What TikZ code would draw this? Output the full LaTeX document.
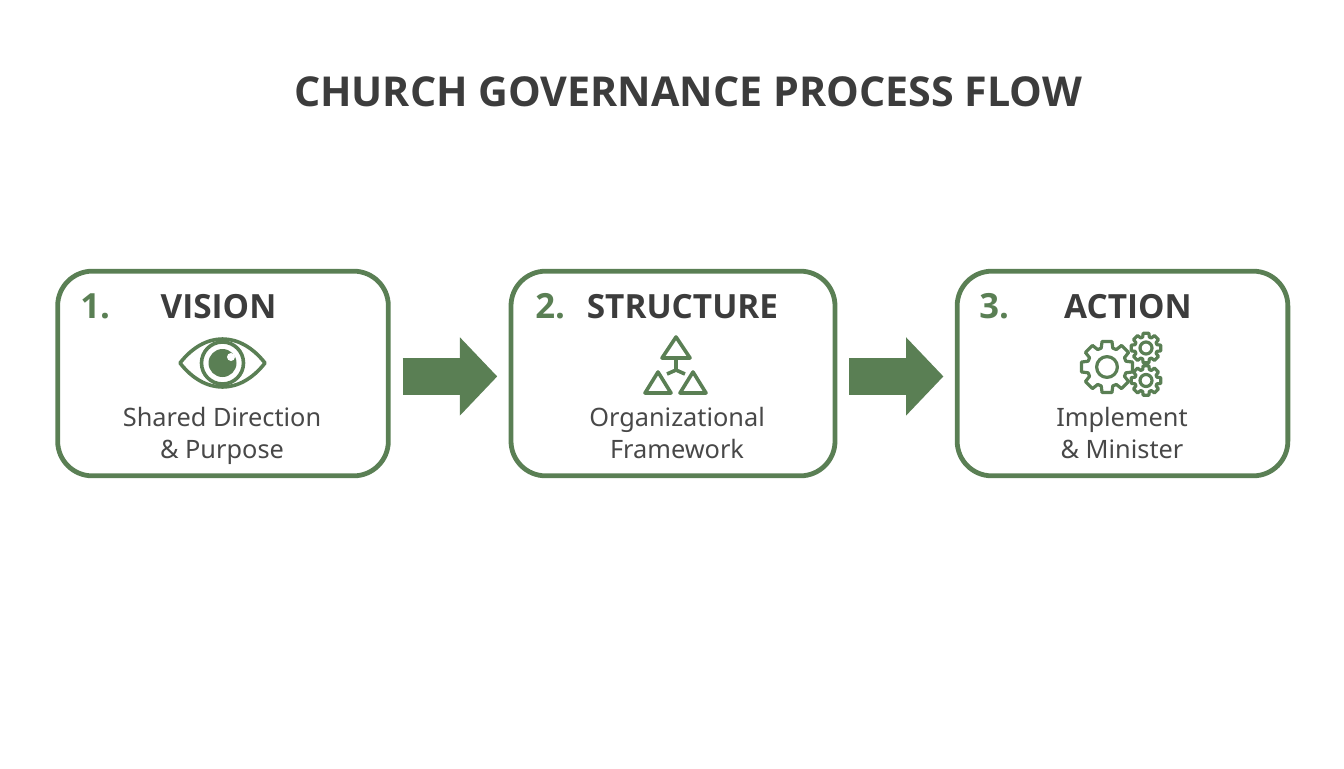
\documentclass[tikz,border=0pt]{standalone}
\usepackage{fontspec}
\setmainfont{Noto Sans}
\newfontfamily\headfont{Open Sans}
\usetikzlibrary{arrows.meta}
\definecolor{leaf}{HTML}{5A7F54}
\definecolor{ink}{HTML}{3C3C3C}
\definecolor{softink}{HTML}{484848}
\tikzset{
    stepbox/.style={draw=leaf, line width=3.6pt, rounded corners=26pt, minimum height=153.5pt},
    headline/.style={anchor=base, text=ink, font=\headfont\bfseries\fontsize{25}{30}\selectfont, inner sep=0pt},
    numeral/.style={anchor=base west, text=leaf, font=\headfont\bfseries\fontsize{26}{30}\selectfont, inner sep=0pt},
    sublabel/.style={align=center, text=softink, font=\fontsize{19}{24}\selectfont, inner sep=0pt},
    flowarrow/.style={draw=leaf, line width=27.5pt, -{Triangle[width=57pt,length=28pt]}, shorten <=9pt, shorten >=8.5pt},
    iconline/.style={draw=leaf, line width=2.7pt, line join=round},
    thinline/.style={draw=leaf, line width=2.4pt, line join=round},
    % gear outline, radius in reference pixels
    gearicon/.pic={
        \draw[thinline] (-11:#1) \foreach \a in {0,45,...,315} {
            -- (\a-11:#1) -- (\a+11:#1) -- (\a+17:0.76*#1) -- (\a+28:0.76*#1)
            } -- cycle;
        \draw[thinline] (0,0) circle (0.4*#1);
    }
}
\begin{document}
\begin{tikzpicture}[x=0.75pt,y=-0.75pt]
    \useasboundingbox (0,0) rectangle (1344,768);

    % Title
    \node[text=ink, font=\headfont\bfseries\fontsize{30.9}{36}\selectfont, inner sep=0pt] (title) at (688,92) {CHURCH GOVERNANCE PROCESS FLOW};

    % Step boxes
    \node[stepbox, minimum width=248pt] (vision) at (223,373.5) {};
    \node[stepbox, minimum width=243pt] (structure) at (673,373.5) {};
    \node[stepbox, minimum width=248pt] (action) at (1122.5,373.5) {};

    % Flow arrows
    \draw[flowarrow] ([yshift=-2.2pt]vision.east) -- ([yshift=-2.2pt]structure.west);
    \draw[flowarrow] ([yshift=-2.2pt]structure.east) -- ([yshift=-2.2pt]action.west);

    % Step headers
    \node[numeral] (num1) at (80,318) {1.};
    \node[headline] (head1) at (218.5,318) {VISION};
    \node[numeral] (num2) at (535,318) {2.};
    \node[headline] (head2) at (682.5,318) {STRUCTURE};
    \node[numeral] (num3) at (979,318) {3.};
    \node[headline] (head3) at (1128,318) {ACTION};

    % Step descriptions
    \node[sublabel] (text1) at (222,436) {Shared Direction\\\& Purpose};
    \node[sublabel] (text2) at (677,433) {Organizational\\Framework};
    \node[sublabel] (text3) at (1122,433) {Implement\\\& Minister};

    % Eye icon
    \draw[iconline] (180,363) .. controls (205,331) and (240,331) .. (265,363)
        .. controls (240,395) and (205,395) .. (180,363) -- cycle;
    \draw[iconline] (222.5,363) circle (21);
    \fill[leaf] (222.5,363) circle (14);
    \fill[white] (231,357) circle (4);

    % Triangle icon
    \draw[iconline] (676,337) -- (690,358) -- (662,358) -- cycle;
    \draw[iconline] (658,372) -- (671,393) -- (645,393) -- cycle;
    \draw[iconline] (693,372) -- (706,393) -- (680,393) -- cycle;
    \draw[iconline] (676,359) -- (676,370) -- (667,374);
    \draw[iconline] (676,370) -- (685,374);

    % Gear icon
    \pic at (1107,367) {gearicon=26};
    \pic at (1146,348) {gearicon=15};
    \pic at (1146,380.5) {gearicon=15};
\end{tikzpicture}
\end{document}
